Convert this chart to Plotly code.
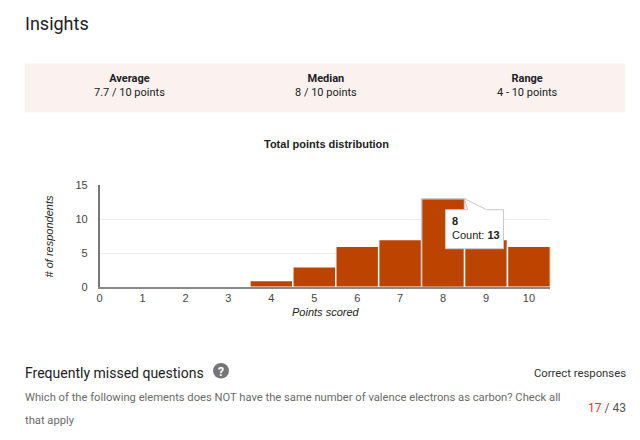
import plotly.graph_objects as go

# ---- data ----
points = [0, 1, 2, 3, 4, 5, 6, 7, 8, 9, 10]
counts = [0, 0, 0, 0, 1, 3, 6, 7, 13, 7, 6]
y_ticks = [0, 5, 10, 15]
stat_titles = ["Average", "Median", "Range"]
stat_values = ["7.7 / 10 points", "8 / 10 points", "4 - 10 points"]
hover_index = 8
correct = 17
total = 43
question_lines = ["Which of the following elements does NOT have the same number of valence electrons as carbon? Check all",
                  "that apply"]

OFF = 8                     # page body margin of the html page
W, H = 640 - OFF, 440 - OFF
BAR = "#bc4400"


def px(x):
    return (x - OFF) / W


def py(y):
    return 1 - (y - OFF) / H


line_colors = ["#ffffff"] * len(points)
line_colors[hover_index] = "#cccccc"

fig = go.Figure()
fig.add_trace(go.Bar(
    x=points, y=counts, width=1,
    marker=dict(color=BAR, line=dict(color=line_colors, width=1.5)),
    hoverinfo="skip",
))

fig.update_layout(
    width=W, height=H, autosize=False,
    margin=dict(l=0, r=0, t=0, b=0),
    paper_bgcolor="white", plot_bgcolor="white",
    showlegend=False,
    font=dict(family="Liberation Sans, Arial", size=11, color="#444"),
    xaxis=dict(domain=[px(97), px(550)], range=[0, 10.5], tickvals=points,
               showgrid=False, zeroline=False, showline=True, linecolor="#888",
               linewidth=1.5, ticks="", tickfont=dict(size=11, color="#444"),
               fixedrange=True),
    yaxis=dict(domain=[py(289), py(184)], range=[0, 15], tickvals=y_ticks,
               showgrid=True, gridcolor="#ececec", zeroline=False, showline=True,
               linecolor="#777", linewidth=1.5, ticks="", ticklabelstandoff=8,
               tickfont=dict(size=11, color="#444"), fixedrange=True),
)

shapes = []
# stats panel
shapes.append(dict(type="rect", xref="paper", yref="paper",
                   x0=px(22), x1=px(625), y0=py(109), y1=py(59),
                   fillcolor="#fbf2ef", line=dict(width=0), layer="below"))
# help icon
shapes.append(dict(type="circle", xref="paper", yref="paper",
                   x0=px(211), x1=px(227), y0=py(383), y1=py(367),
                   fillcolor="#757575", line=dict(width=0)))
# tooltip (box + notch) anchored on hovered bar's top-right corner
shapes.append(dict(type="path", xref="x", yref="y",
                   xsizemode="pixel", ysizemode="pixel",
                   xanchor=points[hover_index] + 0.5, yanchor=counts[hover_index],
                   path="M -19,-11 L 3,-11 L 0,0 L 22,-11 L 39,-11 L 39,-50 L -19,-50 Z",
                   fillcolor="white", line=dict(color="#c8c8c8", width=1)))
fig.update_layout(shapes=shapes)

ann = []
ann.append(dict(text="Insights", xref="paper", yref="paper", x=px(20), y=py(18),
                xanchor="left", yanchor="middle", showarrow=False,
                font=dict(family="Roboto", size=18, color="#202124")))
centers = [127, 325, 527]
for cx, t, v in zip(centers, stat_titles, stat_values):
    ann.append(dict(text=f"<b>{t}</b><br>{v}", xref="paper", yref="paper", x=px(cx), y=py(82),
                    xanchor="center", yanchor="middle", showarrow=False, align="center",
                    font=dict(family="Roboto", size=11, color="#202124")))
ann.append(dict(text="<b>Total points distribution</b>", xref="paper", yref="paper",
                x=px(325), y=py(142), xanchor="center", yanchor="middle", showarrow=False,
                font=dict(family="Liberation Sans, Arial", size=11, color="#222")))
ann.append(dict(text="<i># of respondents</i>", xref="paper", yref="paper",
                x=px(46), y=py(237), xanchor="center", yanchor="middle", showarrow=False,
                textangle=-90, font=dict(family="Liberation Sans, Arial", size=11, color="#222")))
ann.append(dict(text="<i>Points scored</i>", xref="paper", yref="paper",
                x=px(324), y=py(315), xanchor="center", yanchor="middle", showarrow=False,
                font=dict(family="Liberation Sans, Arial", size=11, color="#222")))
# tooltip text
ann.append(dict(text=f"<b>{points[hover_index]}</b><br>Count: <b>{counts[hover_index]}</b>",
                xref="x", yref="y", x=points[hover_index] + 0.5, y=counts[hover_index],
                xanchor="left", yanchor="top", xshift=-15, yshift=-14, showarrow=False,
                align="left", font=dict(family="Liberation Sans, Arial", size=11, color="#222")))
# bottom section
ann.append(dict(text="Frequently missed questions", xref="paper", yref="paper",
                x=px(20), y=py(377), xanchor="left", yanchor="middle", showarrow=False,
                font=dict(family="Roboto", size=14, color="#202124")))
ann.append(dict(text="<b>?</b>", xref="paper", yref="paper", x=px(219), y=py(376),
                xanchor="center", yanchor="middle", showarrow=False,
                font=dict(family="Roboto", size=12, color="white")))
ann.append(dict(text="Correct responses", xref="paper", yref="paper",
                x=px(628), y=py(378), xanchor="right", yanchor="middle", showarrow=False,
                font=dict(family="Roboto", size=11.3, color="#333")))
for ln, yy in zip(question_lines, [402, 426]):
    ann.append(dict(text=ln, xref="paper", yref="paper",
                    x=px(20), y=py(yy), xanchor="left", yanchor="middle", showarrow=False,
                    align="left", font=dict(family="Roboto", size=11.2, color="#6b6b6b")))
ann.append(dict(text=f"<span style='color:#e53935'>{correct}</span> / {total}",
                xref="paper", yref="paper", x=px(628), y=py(413), xanchor="right",
                yanchor="middle", showarrow=False,
                font=dict(family="Roboto", size=12, color="#555")))
fig.update_layout(annotations=ann)

fig.write_html("out.html")
